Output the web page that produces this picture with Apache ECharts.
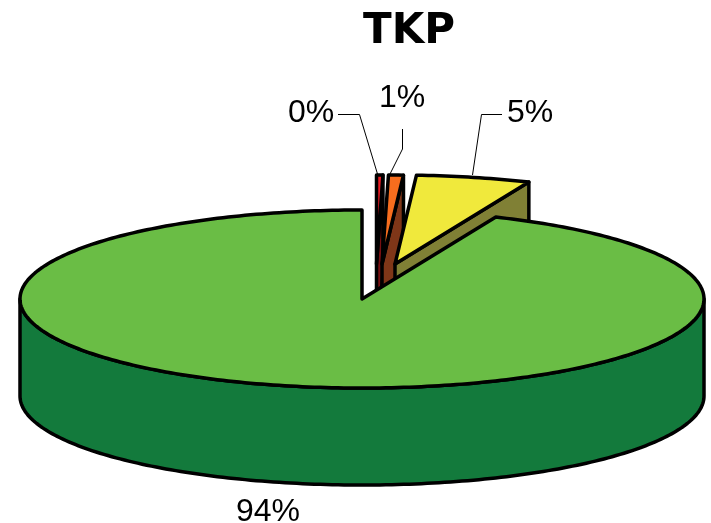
<!DOCTYPE html>
<html><head><meta charset="utf-8">
<style>html,body{margin:0;padding:0;background:#fff}#c{width:711px;height:523px}</style>
<script src="https://cdn.jsdelivr.net/npm/echarts@6/dist/echarts.min.js"></script>
</head><body><div id="c"></div>
<script>
const categories = ['A', 'B', 'C', 'D'];
const values = [0.3, 0.7, 5.4, 93.6];
const titleText = 'TKP';
const topColors = ['#ED1C24', '#F76D1E', '#F0E93C', '#6ABD45'];
const sideColors = ['#7A1012', '#7F3618', '#808035', '#137A3C'];
const explodeOffsets = [[13.5, -35], [19, -35], [32, -35], [-1, 0]];
const labelAnchors = [[311, 113], [402, 98], [530, 113], [268, 512]];
const leaderPaths = [
  [[338, 114.5], [359.5, 114.5], [377.5, 174]],
  [[402.5, 129], [402.5, 149], [390, 174]],
  [[502, 114.5], [481.5, 114.5], [472.5, 175]],
  null
];
const geo = { cx: 363, cy: 299, rx: 342, ry: 89, depth: 97 };

const total = values.reduce((a, b) => a + b, 0);
let acc = 0;
const slices = values.map((v, i) => {
  const start = acc / total * 360; acc += v;
  return { start, end: acc / total * 360, off: explodeOffsets[i] };
});
const pt = (a, off, dz) => {
  const r = a * Math.PI / 180;
  return [geo.cx + off[0] + geo.rx * Math.sin(r), geo.cy + off[1] - geo.ry * Math.cos(r) + (dz || 0)];
};
const arc = (a0, a1, off, dz) => {
  const out = [], n = Math.max(1, Math.ceil(Math.abs(a1 - a0)));
  for (let k = 0; k <= n; k++) out.push(pt(a0 + (a1 - a0) * k / n, off, dz));
  return out;
};
const stroke = { stroke: '#000', lineWidth: 3.5, lineJoin: 'round' };
const poly = (points, fill) => ({ type: 'polygon', shape: { points }, style: Object.assign({ fill }, stroke) });

function renderSlice(params) {
  const i = params.dataIndex, s = slices[i], off = s.off, kids = [];
  const apex = [geo.cx + off[0], geo.cy + off[1]];
  const apexLow = [apex[0], apex[1] + geo.depth];
  if (s.end < 180) kids.push(poly([apex, pt(s.end, off), pt(s.end, off, geo.depth), apexLow], sideColors[i]));
  if (s.start > 180) kids.push(poly([apex, pt(s.start, off), pt(s.start, off, geo.depth), apexLow], sideColors[i]));
  const f0 = Math.max(s.start, 90), f1 = Math.min(s.end, 270);
  if (f1 > f0) {
    kids.push(poly(arc(f0, f1, off).concat(arc(f1, f0, off, geo.depth)), sideColors[i]));
  }
  kids.push(poly([apex].concat(arc(s.start, s.end, off)), topColors[i]));
  return { type: 'group', children: kids };
}
function renderLabel(params) {
  const i = params.dataIndex, kids = [];
  if (leaderPaths[i]) kids.push({ type: 'polyline', shape: { points: leaderPaths[i] }, style: { fill: 'none', stroke: '#000', lineWidth: 1 } });
  kids.push({ type: 'text', style: {
    x: labelAnchors[i][0], y: labelAnchors[i][1], text: Math.round(values[i]) + '%',
    fill: '#000', font: '32px "Liberation Sans", Arial, sans-serif', align: 'center', verticalAlign: 'middle'
  } });
  return { type: 'group', children: kids };
}
const chart = echarts.init(document.getElementById('c'), null, { renderer: 'canvas' });
chart.setOption({
  animation: false,
  backgroundColor: '#fff',
  title: { text: titleText, left: 404, top: 6, textAlign: 'center',
    textStyle: { fontFamily: '"DejaVu Sans"', fontWeight: 'bold', fontSize: 42, color: '#000' } },
  series: [
    { type: 'custom', coordinateSystem: 'none', silent: true, renderItem: renderSlice,
      data: categories.map((c, i) => ({ name: c, value: values[i] })), z: 2 },
    { type: 'custom', coordinateSystem: 'none', silent: true, renderItem: renderLabel,
      data: categories.map((c, i) => ({ name: c, value: values[i] })), z: 3 }
  ]
});
</script></body></html>
